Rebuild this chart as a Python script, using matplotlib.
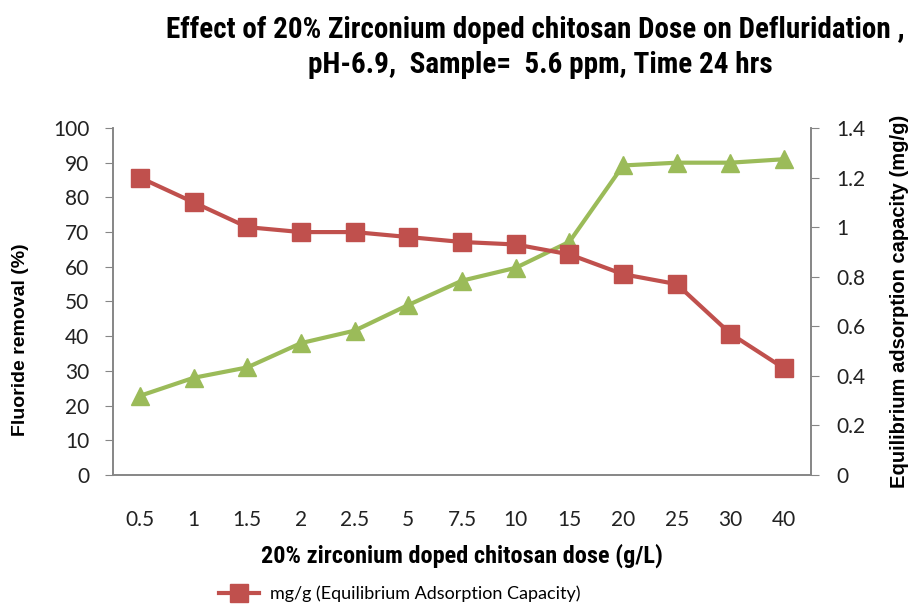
import matplotlib
matplotlib.use('Agg')
import matplotlib.pyplot as plt
from matplotlib.lines import Line2D
from matplotlib import font_manager

doses = ["0.5", "1", "1.5", "2", "2.5", "5", "7.5", "10", "15", "20", "25", "30", "40"]
removal_pct = [22.8, 28, 31, 38, 41.6, 49, 56, 59.7, 67.2, 89.2, 90, 90, 91]
capacity_mgg = [1.2, 1.1, 1.0, 0.98, 0.98, 0.96, 0.94, 0.93, 0.89, 0.81, 0.77, 0.57, 0.43]
left_ticks = [0, 10, 20, 30, 40, 50, 60, 70, 80, 90, 100]
right_ticks = [0, 0.2, 0.4, 0.6, 0.8, 1.0, 1.2, 1.4]
right_labels = ["0", "0.2", "0.4", "0.6", "0.8", "1", "1.2", "1.4"]

RED = "#C0504D"
GREEN = "#9BBB59"
GRID = "#868686"

# narrow bold font for title / x label, if one is installed
installed = {f.name for f in font_manager.fontManager.ttflist}
narrow = None
for name in ["Liberation Sans Narrow", "Roboto Condensed", "DejaVu Sans Condensed",
             "Open Sans Condensed", "Arial Narrow"]:
    if name in installed:
        narrow = name
        break
if narrow:
    NARROW = [narrow, "DejaVu Sans"]
    title_size, xlab_size = 21, 17.5
else:
    NARROW = ["Liberation Sans", "DejaVu Sans"]
    title_size, xlab_size = 15.5, 12.5
BODY = ["Lato", "DejaVu Sans"]
BOLD = ["Liberation Sans", "DejaVu Sans"]

fig = plt.figure(figsize=(9.13, 6.06), dpi=100)
ax = fig.add_axes([0.1238, 0.2162, 0.7645, 0.5726])
ax2 = ax.twinx()

x = list(range(len(doses)))
ax.plot(x, removal_pct, color=GREEN, linewidth=3, marker="^", markersize=13,
        markeredgecolor=GREEN)
ax2.plot(x, capacity_mgg, color=RED, linewidth=3, marker="s", markersize=13,
         markeredgecolor=RED)

ax.set_xlim(-0.5, len(doses) - 0.5)
ax.set_ylim(0, 100)
ax2.set_ylim(0, 1.4)
ax.set_yticks(left_ticks)
ax.set_yticklabels([str(t) for t in left_ticks], family=BODY, fontsize=15, color="#222222")
ax2.set_yticks(right_ticks)
ax2.set_yticklabels(right_labels, family=BODY, fontsize=15, color="#222222")
ax.set_xticks(x)
ax.set_xticklabels(doses, family=BODY, fontsize=15, color="#222222")
ax.tick_params(axis="x", length=0, pad=25)
ax.tick_params(axis="y", direction="out", length=6, color=GRID, pad=11)
ax2.tick_params(axis="y", direction="out", length=6, color=GRID, pad=12)

for a in (ax, ax2):
    a.spines["top"].set_visible(False)
    for s in ("left", "right", "bottom"):
        a.spines[s].set_color(GRID)
        a.spines[s].set_linewidth(1.2)

ax.set_ylabel("Fluoride removal (%)", family=BOLD, fontweight="bold", fontsize=14)
ax.yaxis.set_label_coords(-0.12, 0.39)
ax2.set_ylabel("Equilibrium adsorption capacity (mg/g)", family=BOLD, fontweight="bold",
               fontsize=14.5, labelpad=18)
ax.set_xlabel("20% zirconium doped chitosan dose (g/L)", family=NARROW, fontweight="bold",
              fontsize=xlab_size, labelpad=10)

fig.text(0.586, 1 - 30 / 606, "Effect of 20% Zirconium doped chitosan Dose on Defluridation ,",
         ha="center", va="center", family=NARROW, fontweight="bold", fontsize=title_size)
fig.text(0.592, 1 - 65 / 606, "pH-6.9,  Sample=  5.6 ppm, Time 24 hrs",
         ha="center", va="center", family=NARROW, fontweight="bold", fontsize=title_size)

handle = Line2D([], [], color=RED, linewidth=3, marker="s", markersize=13, markeredgecolor=RED)
fig.legend([handle], ["mg/g (Equilibrium Adsorption Capacity)"], loc="center",
           bbox_to_anchor=(0.438, 0.02), frameon=False, prop={"family": BODY, "size": 13},
           handlelength=2.2, handletextpad=0.6)

fig.savefig("out.png", dpi=100)
